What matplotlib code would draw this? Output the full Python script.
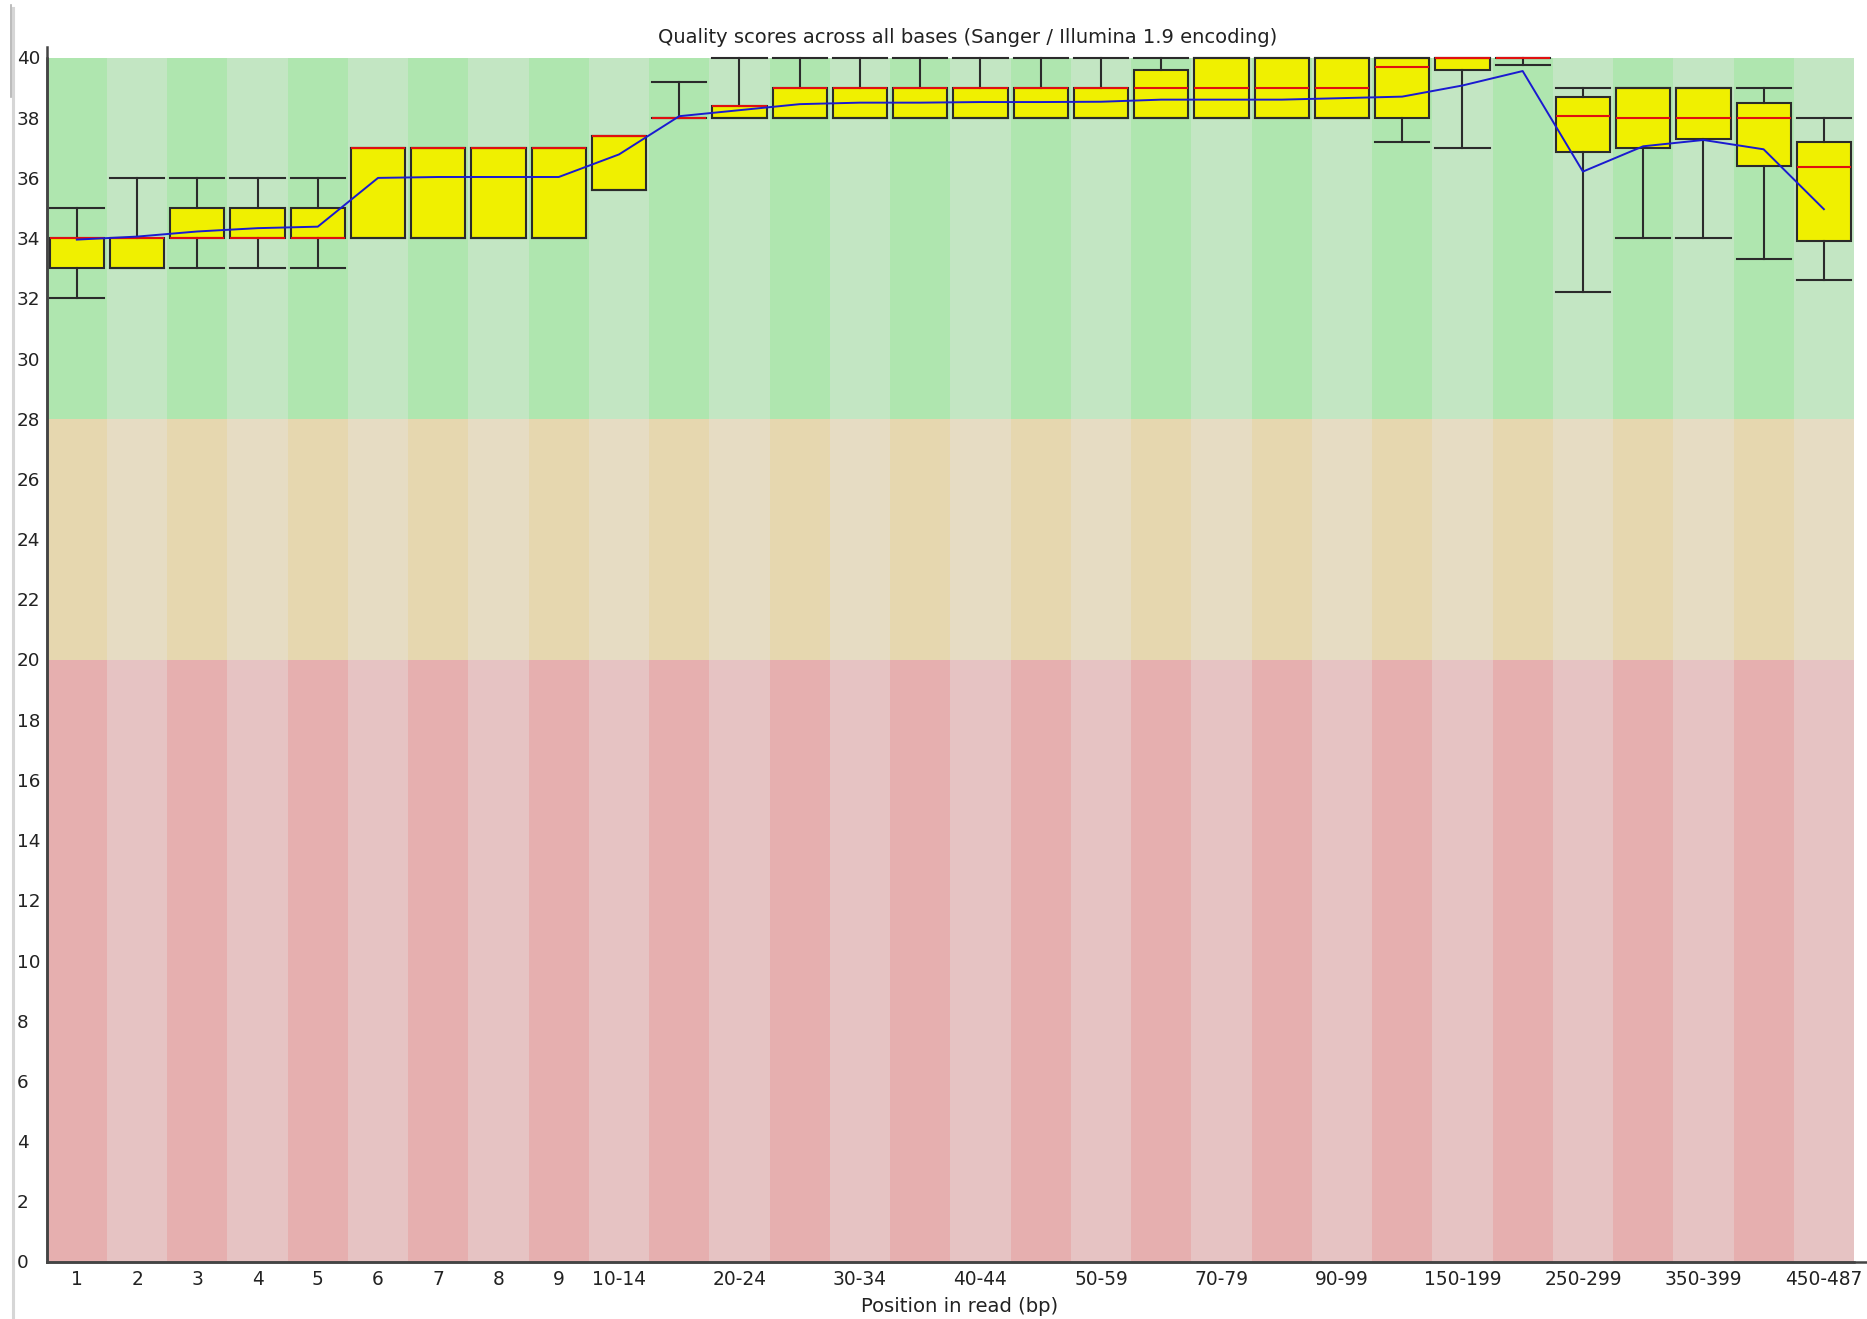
import numpy as np
import matplotlib
matplotlib.use("Agg")
import matplotlib.pyplot as plt
from matplotlib.lines import Line2D

# Read positions (bp) grouped as in the per-base quality report
positions = ["1", "2", "3", "4", "5", "6", "7", "8", "9", "10-14",
             "15-19", "20-24", "25-29", "30-34", "35-39", "40-44", "45-49",
             "50-59", "60-69", "70-79", "80-89", "90-99", "100-149",
             "150-199", "200-249", "250-299", "300-349", "350-399",
             "400-449", "450-487"]

# Phred score summaries per position group
whisker_low = [32, 33, 33, 33, 33, 34, 34, 34, 34, 35.6,
               38, 38, 38, 38, 38, 38, 38, 38, 38, 38,
               38, 38, 37.2, 37.0, 39.75, 32.2, 34, 34, 33.3, 32.6]
lower_quartile = [33, 33, 34, 34, 34, 34, 34, 34, 34, 35.6,
                  38, 38, 38, 38, 38, 38, 38, 38, 38, 38,
                  38, 38, 38, 39.6, 40, 36.85, 37, 37.3, 36.4, 33.9]
median = [34, 34, 34, 34, 34, 37, 37, 37, 37, 37.4,
          38, 38.4, 39, 39, 39, 39, 39, 39, 39, 39,
          39, 39, 39.7, 40, 40, 38.05, 38, 38, 38, 36.35]
upper_quartile = [34, 34, 35, 35, 35, 37, 37, 37, 37, 37.4,
                  38, 38.4, 39, 39, 39, 39, 39, 39, 39.6, 40,
                  40, 40, 40, 40, 40, 38.7, 39, 39, 38.5, 37.2]
whisker_high = [35, 36, 36, 36, 36, 37, 37, 37, 37, 37.4,
                39.2, 40, 40, 40, 40, 40, 40, 40, 40, 40,
                40, 40, 40, 40, 40, 39.0, 39, 39, 39, 38]
mean_quality = [33.95, 34.05, 34.22, 34.33, 34.38, 36.0, 36.03, 36.03, 36.03, 36.78,
                38.05, 38.25, 38.45, 38.5, 38.5, 38.52, 38.52, 38.53, 38.6, 38.6,
                38.6, 38.65, 38.7, 39.07, 39.55, 36.21, 37.05, 37.26, 36.95, 34.96]

# Quality bands: (low, high, dark shade, light shade)
band_low = [0, 20, 28]
band_high = [20, 28, 40]
band_dark = ["#e6afaf", "#e6d7af", "#afe6af"]
band_light = ["#e6c3c3", "#e6dcc3", "#c3e6c3"]

y_ticks = list(range(0, 41, 2))
labelled_positions = ["1", "2", "3", "4", "5", "6", "7", "8", "9", "10-14",
                      "20-24", "30-34", "40-44", "50-59", "70-79", "90-99",
                      "150-199", "250-299", "350-399", "450-487"]

W, H = 1867, 1319
fig = plt.figure(figsize=(W / 100, H / 100), dpi=100)
fig.patch.set_facecolor("white")

left_px, right_px, top_px, bottom_px = 46.7, 1854, 57.5, 1261.5
ax = fig.add_axes([left_px / W, 1 - bottom_px / H,
                   (right_px - left_px) / W, (bottom_px - top_px) / H])

n = len(positions)
x = np.arange(n) + 0.5

# Alternating column shading inside each quality band
for lo, hi, dark, light in zip(band_low, band_high, band_dark, band_light):
    shades = [dark if i % 2 == 0 else light for i in range(n)]
    ax.bar(x, hi - lo, bottom=lo, width=1.0, color=shades,
           linewidth=0, zorder=0)

stats = []
for i in range(n):
    stats.append(dict(whislo=whisker_low[i], q1=lower_quartile[i],
                      med=median[i], q3=upper_quartile[i],
                      whishi=whisker_high[i], fliers=[], label=positions[i]))

edge = "#2b2b2b"
art = ax.bxp(stats, positions=x, widths=0.9, capwidths=0.9,
             patch_artist=True, showfliers=False, manage_ticks=False,
             boxprops=dict(facecolor="#f0f000", edgecolor=edge, linewidth=1.5),
             whiskerprops=dict(color=edge, linewidth=1.5),
             capprops=dict(color=edge, linewidth=1.5),
             medianprops=dict(color="#e01010", linewidth=1.5),
             zorder=2)
for group in art.values():
    for a in group:
        a.set_clip_on(False)

ax.plot(x, mean_quality, color="#1a1ad0", linewidth=1.4, zorder=4,
        solid_joinstyle="round")

ax.set_xlim(0, n)
ax.set_ylim(0, 40)

ax.set_yticks(y_ticks)
ax.set_yticklabels([str(t) for t in y_ticks], fontsize=13.2, color="#222222",
                   ha="left")
ax.tick_params(axis="y", length=0, pad=21.5)

tick_x = [x[positions.index(p)] for p in labelled_positions]
ax.set_xticks(tick_x)
ax.set_xticklabels(labelled_positions, fontsize=13.4, color="#222222")
ax.tick_params(axis="x", length=0, pad=6)

for side in ("top", "right"):
    ax.spines[side].set_visible(False)
for side in ("left", "bottom"):
    ax.spines[side].set_color("#444444")
    ax.spines[side].set_linewidth(1.8)
    ax.spines[side].set_zorder(5)

# Axis lines reaching slightly beyond the plotting area
fig.add_artist(Line2D([left_px / W, left_px / W],
                      [1 - bottom_px / H, 1 - 47 / H],
                      color="#444444", linewidth=1.8))
fig.add_artist(Line2D([left_px / W, 1.0],
                      [1 - bottom_px / H, 1 - bottom_px / H],
                      color="#444444", linewidth=1.8))

# Window frame edge on the left
fig.add_artist(Line2D([12.5 / W, 12.5 / W], [0, 1 - 8 / H],
                      color="#d6d6d6", linewidth=2.2))
fig.add_artist(Line2D([10.5 / W, 10.5 / W], [1 - 97 / H, 1 - 5 / H],
                      color="#b0b0b0", linewidth=1.2))

fig.text(968 / W, 1 - 43 / H,
         "Quality scores across all bases (Sanger / Illumina 1.9 encoding)",
         ha="center", va="baseline", fontsize=14.0, color="#222222")
fig.text(960 / W, 1 - 1306 / H, "Position in read (bp)",
         ha="center", va="center", fontsize=14.1, color="#222222")

fig.savefig("out.png", dpi=100, facecolor="white")
